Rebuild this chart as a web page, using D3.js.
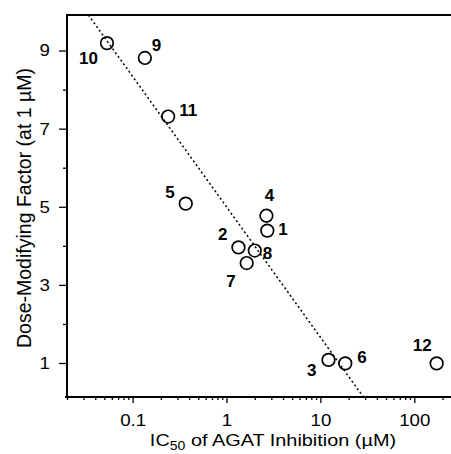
<!DOCTYPE html>
<html>
<head>
<meta charset="utf-8">
<script src="https://cdn.jsdelivr.net/npm/d3@7"></script>
<style>
  body { margin: 0; background: #fff; }
  text { font-family: "Liberation Sans", Arial, Helvetica, sans-serif; }
</style>
</head>
<body>
<div id="chart"></div>
<script>
// compounds, IC50 (uM) and dose-modifying factor
const compoundIds = ["1", "2", "3", "4", "5", "6", "7", "8", "9", "10", "11", "12"];
const ic50Values = [2.72, 1.34, 12.2, 2.66, 0.368, 18.4, 1.64, 2.0, 0.135, 0.0533, 0.239, 173];
const dmfValues = [4.39, 3.96, 1.08, 4.77, 5.08, 0.99, 3.56, 3.88, 8.81, 9.19, 7.31, 0.99];

// dotted regression line, two end points
const fitX = [0.0338, 28.7];
const fitY = [9.91, 0.13];

const xMajorTicks = [0.1, 1, 10, 100];
const xTickLabels = ["0.1", "1", "10", "100"];
const yMajorTicks = [1, 3, 5, 7, 9];
const yMinorTicks = [2, 4, 6, 8];

// label placement next to each circle (dx, dy, anchor)
const labelOffsets = {
  "1": [11, 4, "start"], "2": [-11, -7, "end"], "3": [-12, 16, "end"],
  "4": [3, -15, "middle"], "5": [-11, -6, "end"], "6": [12, 0, "start"],
  "7": [-11, 24, "end"], "8": [8, 8, "start"], "9": [7, -7, "start"],
  "10": [-9, 21, "end"], "11": [11, -1, "start"], "12": [-5, -12, "end"]
};

const width = 451, height = 454;
const plot = { left: 67, right: 451, top: 15, bottom: 397 };

const svg = d3.select("#chart").append("svg")
  .attr("width", width)
  .attr("height", height);

const x = d3.scaleLog().domain([0.02, 246]).range([plot.left, plot.right]);
const y = d3.scaleLinear().domain([0.13, 9.91]).range([plot.bottom, plot.top]);

svg.append("defs").append("clipPath").attr("id", "plot-clip")
  .append("rect")
  .attr("x", plot.left).attr("y", plot.top)
  .attr("width", plot.right - plot.left).attr("height", plot.bottom - plot.top);

// x axis: all log minor ticks, labels only on decades
const xMinorTicks = x.ticks(20).filter(d => !xMajorTicks.some(m => Math.abs(m - d) / m < 1e-6));

const xAxisMinor = svg.append("g")
  .attr("transform", `translate(0,${plot.bottom})`)
  .call(d3.axisBottom(x).tickValues(xMinorTicks).tickSize(3).tickFormat(""));
const xAxisMajor = svg.append("g")
  .attr("transform", `translate(0,${plot.bottom})`)
  .call(d3.axisBottom(x).tickValues(xMajorTicks).tickSize(6).tickPadding(11)
    .tickFormat((d, i) => xTickLabels[i]));

const yAxisMinor = svg.append("g")
  .attr("transform", `translate(${plot.left},0)`)
  .call(d3.axisLeft(y).tickValues(yMinorTicks).tickSize(4).tickFormat(""));
const yAxisMajor = svg.append("g")
  .attr("transform", `translate(${plot.left},0)`)
  .call(d3.axisLeft(y).tickValues(yMajorTicks).tickSize(8).tickPadding(9).tickFormat(d3.format("d")));

[xAxisMinor, xAxisMajor, yAxisMinor, yAxisMajor].forEach(g => {
  g.select(".domain").remove();
  g.selectAll("line").attr("stroke", "#000").attr("stroke-width", 1.3);
  g.selectAll("text").attr("font-size", 17).attr("fill", "#000");
});
// the tick labels in the figure are a little wider than plain Arial
xAxisMajor.selectAll(".tick text").attr("transform", "scale(1.1,1)")
  .attr("x", 0);
yAxisMajor.selectAll(".tick text").attr("transform", "scale(1.1,1)")
  .attr("x", -17 / 1.1);

// frame: left, top and bottom lines
svg.append("path")
  .attr("d", `M${plot.right},${plot.top}H${plot.left}V${plot.bottom}`)
  .attr("fill", "none")
  .attr("stroke", "#000")
  .attr("stroke-width", 2);
svg.append("line")
  .attr("x1", plot.left - 2).attr("x2", plot.right)
  .attr("y1", plot.bottom).attr("y2", plot.bottom)
  .attr("stroke", "#000")
  .attr("stroke-width", 2);

// dotted fit line
const fitData = fitX.map((v, i) => ({ x: v, y: fitY[i] }));
svg.append("path")
  .datum(fitData)
  .attr("clip-path", "url(#plot-clip)")
  .attr("fill", "none")
  .attr("stroke", "#000")
  .attr("stroke-width", 1.5)
  .attr("stroke-dasharray", "2,2.6")
  .attr("d", d3.line().x(d => x(d.x)).y(d => y(d.y)));

const points = compoundIds.map((id, i) => ({ id, ic50: ic50Values[i], dmf: dmfValues[i] }));

svg.append("g")
  .selectAll("circle")
  .data(points)
  .join("circle")
  .attr("cx", d => x(d.ic50))
  .attr("cy", d => y(d.dmf))
  .attr("r", 6.3)
  .attr("fill", "none")
  .attr("stroke", "#000")
  .attr("stroke-width", 1.7);

svg.append("g")
  .selectAll("text")
  .data(points)
  .join("text")
  .attr("x", d => x(d.ic50) + labelOffsets[d.id][0])
  .attr("y", d => y(d.dmf) + labelOffsets[d.id][1])
  .attr("text-anchor", d => labelOffsets[d.id][2])
  .attr("font-size", 17)
  .attr("font-weight", "bold")
  .text(d => d.id);

// axis titles
const xTitle = svg.append("text")
  .attr("transform", "translate(273,446) scale(1.17,1)")
  .attr("text-anchor", "middle")
  .attr("font-size", 17);
xTitle.append("tspan").text("IC");
xTitle.append("tspan").attr("font-size", 12).attr("dy", 4).text("50");
xTitle.append("tspan").attr("dy", -4).text(" of AGAT Inhibition (\u00b5M)");

svg.append("text")
  .attr("transform", "translate(31,208) rotate(-90)")
  .attr("text-anchor", "middle")
  .attr("font-size", 19.5)
  .text("Dose-Modifying Factor (at 1 \u00b5M)");
</script>
</body>
</html>
